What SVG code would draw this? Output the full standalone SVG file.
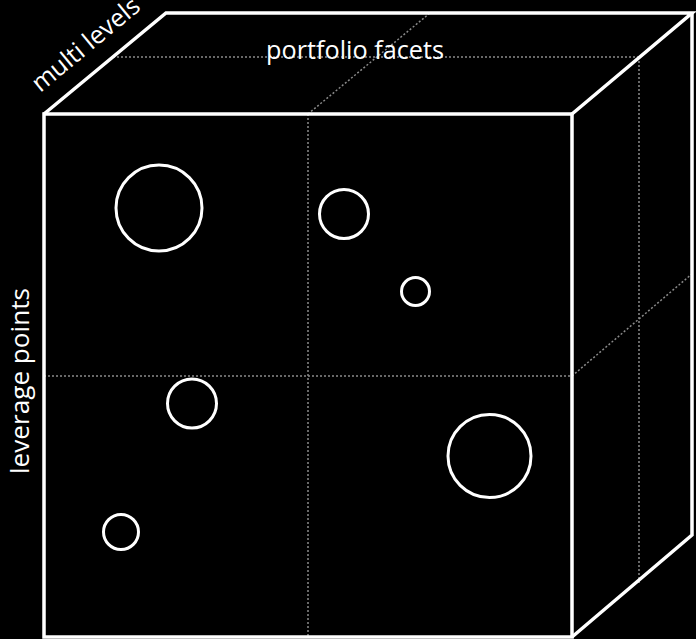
<svg xmlns="http://www.w3.org/2000/svg" width="696" height="639" viewBox="0 0 696 639">
<style>
.edge{fill:none;stroke:#fff;stroke-width:3.5;stroke-linejoin:miter}
.grid{fill:none;stroke:#8a8a8a;stroke-width:1.5;stroke-dasharray:2 2}
.bubble{fill:none;stroke:#fff;stroke-width:3}
.lbl{fill:#fff;font-family:"Open Sans","Noto Sans",sans-serif;font-size:25px}
</style>
<rect width="696" height="639" fill="#000"/>
<g id="grid">
<line class="grid" x1="308" y1="114" x2="308" y2="637"/>
<line class="grid" x1="44" y1="376" x2="572" y2="376"/>
<line class="grid" x1="308" y1="114" x2="430" y2="13"/>
<line class="grid" x1="113" y1="57" x2="639" y2="57"/>
<line class="grid" x1="639" y1="57" x2="639" y2="584"/>
<line class="grid" x1="572" y1="376" x2="693" y2="273"/>
</g>
<g id="cube">
<polygon class="edge" points="44,114 572,114 572,637 44,637"/>
<polyline class="edge" points="44,114 166,13 692,13 572,114"/>
<polyline class="edge" points="692,13 692,535 572,637"/>
</g>
<g id="bubbles">
<circle id="b1" class="bubble" cx="159" cy="208" r="43"/>
<circle id="b2" class="bubble" cx="344" cy="214" r="24.5"/>
<circle id="b3" class="bubble" cx="415.5" cy="291.5" r="14"/>
<circle id="b4" class="bubble" cx="192" cy="403.5" r="24.5"/>
<circle id="b5" class="bubble" cx="489.5" cy="456" r="41.5"/>
<circle id="b6" class="bubble" cx="121" cy="532" r="17.5"/>
</g>
<g id="labels">
<text class="lbl" x="355" y="59" text-anchor="middle" textLength="178" lengthAdjust="spacingAndGlyphs">portfolio facets</text>
<text class="lbl" text-anchor="middle" transform="translate(91,51) rotate(-39.6)" textLength="132" lengthAdjust="spacingAndGlyphs">multi levels</text>
<text class="lbl" text-anchor="middle" transform="translate(29,381) rotate(-90)" textLength="186" lengthAdjust="spacingAndGlyphs">leverage points</text>
</g>
</svg>
